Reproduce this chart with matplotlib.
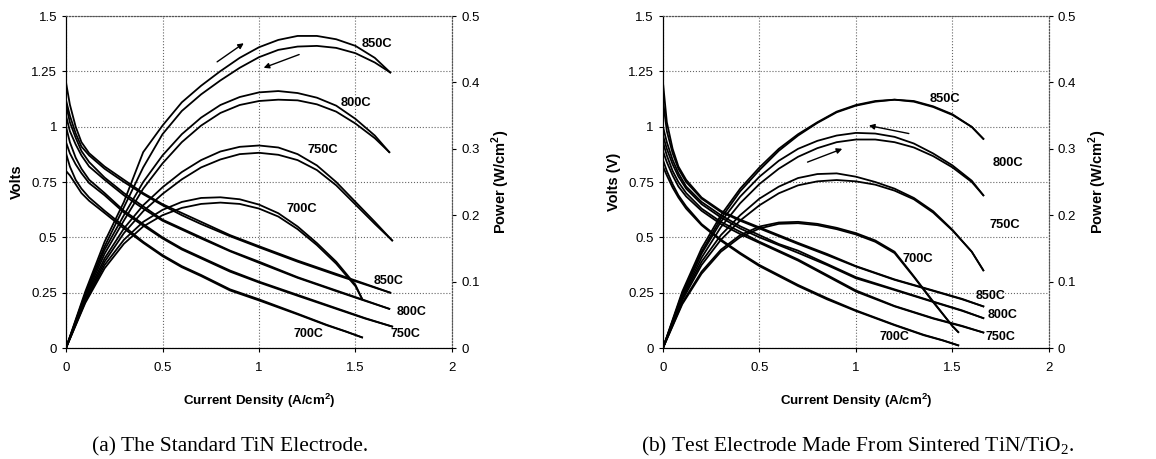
import matplotlib
matplotlib.use('Agg')
from matplotlib import pyplot as plt
import numpy as np

plt.rcParams['font.family'] = ['Liberation Sans', 'DejaVu Sans']

# ---------------- data ----------------
# current steps for the power curves (A/cm2), last point added per curve
I_GRID = [0.0, 0.1, 0.2, 0.3, 0.4, 0.5, 0.6, 0.7, 0.8, 0.9, 1.0, 1.1, 1.2, 1.3, 1.4, 1.5, 1.6]
# current steps for the voltage curves, last point added per curve
I_V = [0.0, 0.02, 0.05, 0.08, 0.12, 0.2, 0.3, 0.4, 0.5, 0.6, 0.7, 0.85, 1.0, 1.2, 1.4, 1.55]
I_V700 = [0.0, 0.02, 0.05, 0.08, 0.12, 0.2, 0.3, 0.4, 0.5, 0.6, 0.7, 0.85, 1.0, 1.2, 1.35, 1.45]

temps = ['850C', '800C', '750C', '700C']

# (a) standard TiN electrode
a_end_I = [1.68, 1.675, 1.69, 1.534]
a_v850_up = [1.2, 1.1, 1.0, 0.93, 0.88, 0.82, 0.76, 0.70, 0.65, 0.61, 0.57, 0.51, 0.46, 0.395, 0.335, 0.29, 0.25]
a_v850_dn = [1.12, 1.05, 0.97, 0.91, 0.87, 0.81, 0.75, 0.695, 0.645, 0.6, 0.56, 0.505, 0.455, 0.39, 0.33, 0.287, 0.25]
a_v800_up = [1.1, 1.02, 0.95, 0.89, 0.84, 0.77, 0.70, 0.64, 0.58, 0.54, 0.50, 0.44, 0.39, 0.32, 0.26, 0.215, 0.177]
a_v800_dn = [1.05, 0.98, 0.92, 0.87, 0.82, 0.76, 0.69, 0.63, 0.575, 0.535, 0.495, 0.437, 0.385, 0.317, 0.257, 0.213, 0.177]
a_v750_up = [1.0, 0.93, 0.86, 0.81, 0.76, 0.70, 0.62, 0.56, 0.50, 0.45, 0.41, 0.35, 0.30, 0.24, 0.18, 0.135, 0.097]
a_v750_dn = [0.93, 0.88, 0.83, 0.79, 0.745, 0.69, 0.612, 0.553, 0.495, 0.445, 0.405, 0.345, 0.296, 0.236, 0.177, 0.133, 0.097]
a_v700_up = [0.88, 0.82, 0.76, 0.72, 0.68, 0.62, 0.55, 0.48, 0.42, 0.37, 0.33, 0.265, 0.22, 0.155, 0.105, 0.075, 0.048]
a_v700_dn = [0.8, 0.78, 0.74, 0.70, 0.665, 0.61, 0.54, 0.475, 0.415, 0.365, 0.325, 0.26, 0.215, 0.152, 0.103, 0.074, 0.048]

a_p850_up = [0, 0.085, 0.16, 0.22, 0.295, 0.335, 0.37, 0.395, 0.417, 0.437, 0.453, 0.464, 0.47, 0.47, 0.465, 0.455, 0.437, 0.415]
a_p850_dn = [0, 0.082, 0.153, 0.212, 0.272, 0.322, 0.357, 0.382, 0.403, 0.422, 0.438, 0.449, 0.454, 0.455, 0.452, 0.444, 0.43, 0.415]
a_p800_up = [0, 0.08, 0.148, 0.2, 0.25, 0.29, 0.322, 0.347, 0.366, 0.378, 0.385, 0.387, 0.384, 0.377, 0.365, 0.345, 0.32, 0.295]
a_p800_dn = [0, 0.077, 0.142, 0.192, 0.24, 0.278, 0.31, 0.335, 0.354, 0.366, 0.372, 0.374, 0.373, 0.367, 0.356, 0.338, 0.316, 0.295]
a_p750_up = [0, 0.075, 0.135, 0.18, 0.215, 0.242, 0.265, 0.283, 0.296, 0.303, 0.305, 0.302, 0.292, 0.275, 0.25, 0.22, 0.19, 0.162]
a_p750_dn = [0, 0.072, 0.13, 0.173, 0.206, 0.232, 0.254, 0.272, 0.284, 0.292, 0.294, 0.291, 0.283, 0.268, 0.245, 0.216, 0.187, 0.162]
a_p700_up = [0, 0.07, 0.125, 0.163, 0.19, 0.208, 0.22, 0.226, 0.227, 0.224, 0.216, 0.203, 0.183, 0.158, 0.13, 0.095, 0.074]
a_p700_dn = [0, 0.068, 0.12, 0.157, 0.183, 0.2, 0.211, 0.217, 0.219, 0.217, 0.21, 0.198, 0.179, 0.155, 0.127, 0.093, 0.074]

# (b) sintered TiN/TiO2 electrode
b_end_I = [1.66, 1.66, 1.66, 1.53]
b_v850_up = [1.2, 1.02, 0.9, 0.82, 0.76, 0.68, 0.62, 0.58, 0.545, 0.51, 0.475, 0.425, 0.37, 0.31, 0.26, 0.222, 0.188]
b_v850_dn = [1.12, 0.98, 0.88, 0.81, 0.75, 0.675, 0.615, 0.575, 0.54, 0.505, 0.47, 0.42, 0.368, 0.308, 0.258, 0.22, 0.188]
b_v800_up = [1.0, 0.93, 0.85, 0.79, 0.73, 0.66, 0.6, 0.55, 0.51, 0.47, 0.44, 0.38, 0.32, 0.265, 0.21, 0.17, 0.135]
b_v800_dn = [0.96, 0.9, 0.83, 0.775, 0.72, 0.65, 0.59, 0.54, 0.5, 0.465, 0.43, 0.375, 0.315, 0.262, 0.208, 0.168, 0.135]
b_v750_up = [0.93, 0.87, 0.8, 0.75, 0.7, 0.63, 0.57, 0.525, 0.48, 0.44, 0.4, 0.33, 0.26, 0.19, 0.135, 0.1, 0.07]
b_v750_dn = [0.89, 0.84, 0.78, 0.73, 0.685, 0.62, 0.56, 0.515, 0.475, 0.435, 0.395, 0.325, 0.255, 0.188, 0.133, 0.098, 0.07]
b_v700_up = [0.85, 0.8, 0.74, 0.69, 0.64, 0.56, 0.49, 0.43, 0.375, 0.33, 0.285, 0.225, 0.17, 0.105, 0.06, 0.035, 0.012]
b_v700_dn = [0.82, 0.78, 0.725, 0.68, 0.63, 0.555, 0.485, 0.425, 0.37, 0.325, 0.28, 0.22, 0.167, 0.103, 0.058, 0.034, 0.012]

b_p850_up = [0, 0.085, 0.15, 0.2, 0.24, 0.272, 0.3, 0.322, 0.34, 0.356, 0.366, 0.372, 0.374, 0.372, 0.364, 0.352, 0.333, 0.315]
b_p850_dn = [0, 0.082, 0.145, 0.195, 0.236, 0.268, 0.297, 0.32, 0.339, 0.355, 0.365, 0.371, 0.374, 0.371, 0.363, 0.351, 0.333, 0.315]
b_p800_up = [0, 0.08, 0.142, 0.19, 0.228, 0.258, 0.282, 0.3, 0.312, 0.32, 0.324, 0.323, 0.318, 0.308, 0.293, 0.275, 0.252, 0.23]
b_p800_dn = [0, 0.077, 0.136, 0.182, 0.218, 0.247, 0.27, 0.288, 0.301, 0.31, 0.314, 0.314, 0.31, 0.302, 0.289, 0.272, 0.25, 0.23]
b_p750_up = [0, 0.075, 0.13, 0.17, 0.2, 0.225, 0.243, 0.256, 0.262, 0.263, 0.258, 0.25, 0.24, 0.226, 0.206, 0.178, 0.145, 0.117]
b_p750_dn = [0, 0.072, 0.125, 0.163, 0.192, 0.215, 0.233, 0.245, 0.251, 0.253, 0.251, 0.246, 0.237, 0.224, 0.204, 0.177, 0.145, 0.117]
b_p700_up = [0, 0.068, 0.115, 0.148, 0.17, 0.183, 0.189, 0.19, 0.187, 0.181, 0.173, 0.162, 0.145, 0.108, 0.07, 0.033, 0.024]
b_p700_dn = [0, 0.066, 0.112, 0.145, 0.167, 0.18, 0.187, 0.188, 0.185, 0.179, 0.171, 0.16, 0.143, 0.107, 0.069, 0.033, 0.024]

# label positions (current, value) for power labels (W/cm2) and voltage labels (V)
a_plab = [(1.61, 0.458), (1.50, 0.369), (1.33, 0.298), (1.22, 0.21)]
a_vlab = [(1.67, 0.305), (1.79, 0.163), (1.76, 0.062), (1.255, 0.062)]
b_plab = [(1.46, 0.375), (1.79, 0.278), (1.77, 0.185), (1.32, 0.134)]
b_vlab = [(1.70, 0.233), (1.76, 0.15), (1.75, 0.05), (1.20, 0.05)]

# arrows: (tail, head) in (current, power)
a_arrows = [((0.783, 0.431), (0.921, 0.459)), ((1.208, 0.442), (1.024, 0.422))]
b_arrows = [((1.274, 0.323), (1.067, 0.335)), ((0.749, 0.28), (0.929, 0.30))]

panels = [
    dict(end=a_end_I,
         v=[(a_v850_up, a_v850_dn), (a_v800_up, a_v800_dn), (a_v750_up, a_v750_dn), (a_v700_up, a_v700_dn)],
         p=[(a_p850_up, a_p850_dn), (a_p800_up, a_p800_dn), (a_p750_up, a_p750_dn), (a_p700_up, a_p700_dn)],
         plab=a_plab, vlab=a_vlab, arrows=a_arrows, ylabel='Volts',
         caption='(a) The Standard TiN Electrode.', left=0.0571, cap_x=0.199),
    dict(end=b_end_I,
         v=[(b_v850_up, b_v850_dn), (b_v800_up, b_v800_dn), (b_v750_up, b_v750_dn), (b_v700_up, b_v700_dn)],
         p=[(b_p850_up, b_p850_dn), (b_p800_up, b_p800_dn), (b_p750_up, b_p750_dn), (b_p700_up, b_p700_dn)],
         plab=b_plab, vlab=b_vlab, arrows=b_arrows, ylabel='Volts (V)',
         caption='(b) Test Electrode Made From Sintered TiN/TiO$_\\mathregular{2}$.', left=0.5735, cap_x=0.7415),
]

fig = plt.figure(figsize=(11.56, 4.59), dpi=100)

for pan in panels:
    ax = fig.add_axes([pan['left'], 0.2418, 0.3339, 0.7233])
    ax2 = ax.twinx()
    for k, t in enumerate(temps):
        end = pan['end'][k]
        iv = (I_V700 if k == 3 else I_V) + [end]
        for v in pan['v'][k]:
            ax.plot(iv, v, color='black', lw=1.3)
        n = len(pan['p'][k][0])
        ip = I_GRID[:n - 1] + [end]
        for p in pan['p'][k]:
            ax2.plot(ip, p, color='black', lw=1.3)
        x, y = pan['plab'][k]
        ax2.text(x, y, t, fontsize=9.3, fontweight='bold', ha='center', va='center')
        x, y = pan['vlab'][k]
        ax.text(x, y, t, fontsize=9, fontweight='bold', ha='center', va='center')
    for tail, head in pan['arrows']:
        ax2.annotate('', xy=head, xytext=tail,
                     arrowprops=dict(arrowstyle='-|>', color='black', lw=1.0,
                                     mutation_scale=8, shrinkA=0, shrinkB=0))

    ax.set_xlim(0, 2)
    ax.set_ylim(0, 1.5)
    ax2.set_ylim(0, 0.5)
    ax.set_xticks([0, 0.5, 1, 1.5, 2])
    ax.set_xticklabels(['0', '0.5', '1', '1.5', '2'])
    ax.set_yticks([0, 0.25, 0.5, 0.75, 1, 1.25, 1.5])
    ax.set_yticklabels(['0', '0.25', '0.5', '0.75', '1', '1.25', '1.5'])
    ax2.set_yticks([0, 0.1, 0.2, 0.3, 0.4, 0.5])
    ax2.set_yticklabels(['0', '0.1', '0.2', '0.3', '0.4', '0.5'])
    ax.grid(True, color='#666666', linestyle=':', lw=0.8)
    for a in (ax, ax2):
        a.tick_params(labelsize=9.5, length=3, width=0.8, direction='out')
        a.spines['top'].set_linestyle(':')
        a.spines['right'].set_linestyle(':')
        a.spines['top'].set_color('#555555')
        a.spines['right'].set_color('#555555')
    ax.tick_params(axis='x', pad=7)
    ax.set_xlabel('Current Density (A/cm$^\\mathregular{2}$)', fontsize=9.6, fontweight='bold', labelpad=13)
    ax.set_ylabel(pan['ylabel'], fontsize=10.5, fontweight='bold', labelpad=5)
    ax2.set_ylabel('Power (W/cm$^\\mathregular{2}$)', fontsize=10.5, fontweight='bold', labelpad=7)
    fig.text(pan['cap_x'], 0.027, pan['caption'], family='Liberation Serif', fontsize=15.5,
             ha='center', va='center')

fig.savefig('out.png', dpi=100)
